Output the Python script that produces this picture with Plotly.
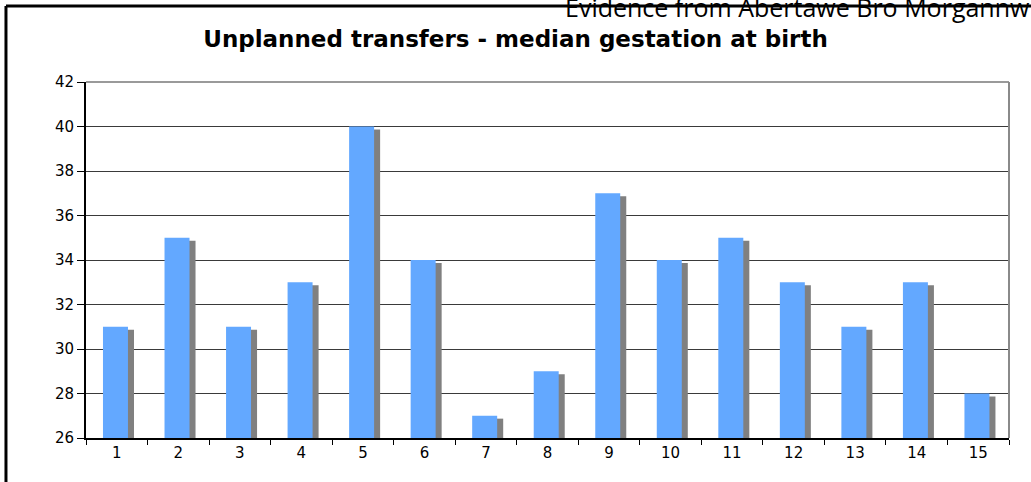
import plotly.graph_objects as go

# Data
units = [str(i) for i in range(1, 16)]
median_gestation = [31, 35, 31, 33, 40, 34, 27, 29, 37, 34, 35, 33, 31, 33, 28]
y_ticks = [26, 28, 30, 32, 34, 36, 38, 40, 42]

title_text = "Unplanned transfers - median gestation at birth"
source_text = "Evidence from Abertawe Bro Morgannwr"

y_base = 26
# shadow bar sits slightly lower and to the right of the blue bar
shadow_drop = 0.13
shadow_heights = [v - shadow_drop - y_base for v in median_gestation]
bar_heights = [v - y_base for v in median_gestation]

fig = go.Figure()

# grey "3D" shadow drawn first
fig.add_trace(go.Bar(
    x=units, y=shadow_heights, base=y_base,
    width=0.406, offset=-0.126,
    marker=dict(color="#808080", line=dict(width=0)),
    showlegend=False, hoverinfo="skip"
))

# main blue bars
fig.add_trace(go.Bar(
    x=units, y=bar_heights, base=y_base,
    width=0.406, offset=-0.224,
    marker=dict(color="#63A8FF", line=dict(width=0)),
    customdata=median_gestation,
    hovertemplate="%{x}: %{customdata}<extra></extra>",
    showlegend=False
))

fig.update_layout(
    width=1031, height=482,
    margin=dict(l=86, r=22, t=82, b=44),
    paper_bgcolor="white", plot_bgcolor="white",
    barmode="overlay",
    font=dict(family="DejaVu Sans", color="black"),
    title=dict(
        text="<b>" + title_text + "</b>",
        x=0.5, xanchor="center", xref="container",
        y=1 - 39 / 482, yanchor="middle", yref="container",
        font=dict(family="DejaVu Sans", size=23, color="black")
    ),
    xaxis=dict(
        type="category", range=[-0.5, 14.5],
        showline=True, linecolor="black", linewidth=2,
        ticks="outside", ticklen=5, tickcolor="black", tickwidth=1,
        tickson="boundaries",
        showgrid=False, zeroline=False,
        tickfont=dict(family="DejaVu Sans", size=15, color="black")
    ),
    yaxis=dict(
        range=[26, 42], tickvals=y_ticks,
        showline=True, linecolor="black", linewidth=2,
        ticks="outside", ticklen=7, tickcolor="black", tickwidth=1,
        showgrid=True, gridcolor="#3a3a3a", gridwidth=1,
        zeroline=False,
        tickfont=dict(family="DejaVu Sans", size=15, color="black")
    ),
    shapes=[
        # grey plot-area border on top and right
        dict(type="line", xref="paper", yref="paper", x0=0, x1=1, y0=1, y1=1,
             line=dict(color="#9a9a9a", width=2)),
        dict(type="line", xref="paper", yref="paper", x0=1, x1=1, y0=0, y1=1,
             line=dict(color="#8a8a8a", width=2)),
        # outer black frame (left and top)
        dict(type="line", xref="paper", yref="paper", x0=-0.0867, x1=-0.0867, y0=-0.2, y1=1.2136,
             line=dict(color="black", width=3)),
        dict(type="line", xref="paper", yref="paper", x0=-0.0867, x1=1.1, y0=1.2136, y1=1.2136,
             line=dict(color="black", width=3)),
    ],
    annotations=[
        dict(text=source_text, xref="paper", yref="paper",
             x=(563 - 86) / 923, xanchor="left",
             y=(438 - 7) / 356, yanchor="middle",
             showarrow=False,
             font=dict(family="Open Sans", size=25, color="black"))
    ]
)

# drop the browser's default page margin so the figure sits at the top-left corner
fig.write_html("out.html", config={"displayModeBar": False},
               post_script="document.body.style.margin='0';")
